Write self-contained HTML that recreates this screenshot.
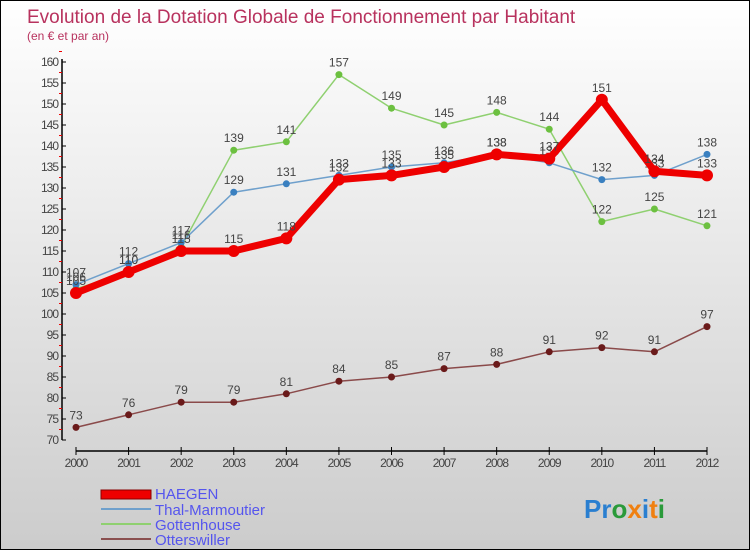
<!DOCTYPE html>
<html><head><meta charset="utf-8"><style>
body{margin:0}
#c{width:748px;height:548px;border:1px solid #000;background:linear-gradient(#fff,#ccc);position:relative;font-family:"Liberation Sans",sans-serif;overflow:hidden}
text{font-family:"Liberation Sans",sans-serif}
</style></head><body>
<div id="c">
<svg id="s" width="748" height="548">
<text x="26" y="22" font-size="19" fill="#b8325e">Evolution de la Dotation Globale de Fonctionnement par Habitant</text>
<text x="26" y="39" font-size="12" fill="#b8325e">(en € et par an)</text>
<g id="axes"></g><g id="series"></g>
<g>
<rect x="100" y="489" width="50" height="9" fill="#e00" stroke="#800" stroke-width="1"/>
<text x="154" y="498" font-size="15" fill="#5555ee">HAEGEN</text>
<line x1="100" x2="150" y1="508" y2="508" stroke="#6fa0cc" stroke-width="2"/>
<text x="154" y="514" font-size="15" fill="#5555ee">Thal-Marmoutier</text>
<line x1="100" x2="150" y1="523" y2="523" stroke="#8fd070" stroke-width="2"/>
<text x="154" y="529" font-size="15" fill="#5555ee">Gottenhouse</text>
<line x1="100" x2="150" y1="538" y2="538" stroke="#8a5050" stroke-width="2"/>
<text x="154" y="544" font-size="15" fill="#5555ee">Otterswiller</text>
</g>
<text x="583" y="517" font-size="26" font-weight="bold"><tspan fill="#2a7fd0">Pr</tspan><tspan fill="#2a9a3a">o</tspan><tspan fill="#f08010">x</tspan><tspan fill="#2a7fd0">i</tspan><tspan fill="#f08010">t</tspan><tspan fill="#2a9a3a">i</tspan></text>
</svg></div>
<script>
const years=[2000,2001,2002,2003,2004,2005,2006,2007,2008,2009,2010,2011,2012];
const haegen=[105,110,115,115,118,132,133,135,138,137,151,134,133];
const thal=[107,112,117,129,131,133,135,136,138,136,132,133,138];
const gotten=[106,110,116,139,141,157,149,145,148,144,122,125,121];
const otters=[73,76,79,79,81,84,85,87,88,91,92,91,97];
const yTicks=[70,75,80,85,90,95,100,105,110,115,120,125,130,135,140,145,150,155,160];
const NS="http://www.w3.org/2000/svg";
const X=i=>75+i*(706-75)/12;
const Y=v=>439-(v-70)*(439-61)/90;
function mk(t,a,p){const e=document.createElementNS(NS,t);for(const k in a)e.setAttribute(k,a[k]);p.appendChild(e);return e;}
const ax=document.getElementById('axes');
let yl=mk('line',{x1:61,x2:61,y1:58,y2:439,stroke:'#000','stroke-width':1.5},ax);


let xl=mk('line',{x1:75,x2:706,y1:450,y2:450,stroke:'#000','stroke-width':1.5},ax);


yTicks.forEach(v=>{
 mk('line',{x1:61,x2:65,y1:Y(v),y2:Y(v),stroke:'#000'},ax);
 mk('line',{x1:58,x2:61,y1:Y(v+2.5),y2:Y(v+2.5),stroke:'#e00'},ax);
 const t=mk('text',{x:57,y:Y(v)+4,'font-size':12,fill:'#444','text-anchor':'end','letter-spacing':'-1'},ax);
 t.textContent=v;
 
 
});
years.forEach((y,i)=>{
 mk('line',{x1:X(i),x2:X(i),y1:446,y2:454,stroke:'#000'},ax);
 const t=mk('text',{x:X(i),y:466,'font-size':12,fill:'#444','text-anchor':'middle','letter-spacing':'-1'},ax);
 t.textContent=y;
 
 
});
const sg=document.getElementById('series');
function draw(vals,name,col,dot,w,r){
 const g=mk('g',{},sg);
 
 
 const pl=mk('polyline',{points:vals.map((v,i)=>X(i)+','+Y(v)).join(' '),fill:'none',stroke:col,'stroke-width':w,'stroke-linejoin':'round'},g);
 
 
 vals.forEach((v,i)=>{
  const c=mk('circle',{cx:X(i),cy:Y(v),r:r,fill:dot},g);
  
  
  const t=mk('text',{x:X(i),y:Y(v)-8,'font-size':12,fill:'#444','text-anchor':'middle'},g);
  t.textContent=v;
  
  
 });
}
draw(otters,'otterswiller','#8a4a4a','#6a1a1a',1.5,3.5);
draw(gotten,'gottenhouse','#8fd070','#6cc040',1.5,3.5);
draw(thal,'thal-marmoutier','#6fa0cc','#3a80c0',1.5,3.5);
draw(haegen,'haegen','#e00','#e00',7,6);
</script>
</body></html>
